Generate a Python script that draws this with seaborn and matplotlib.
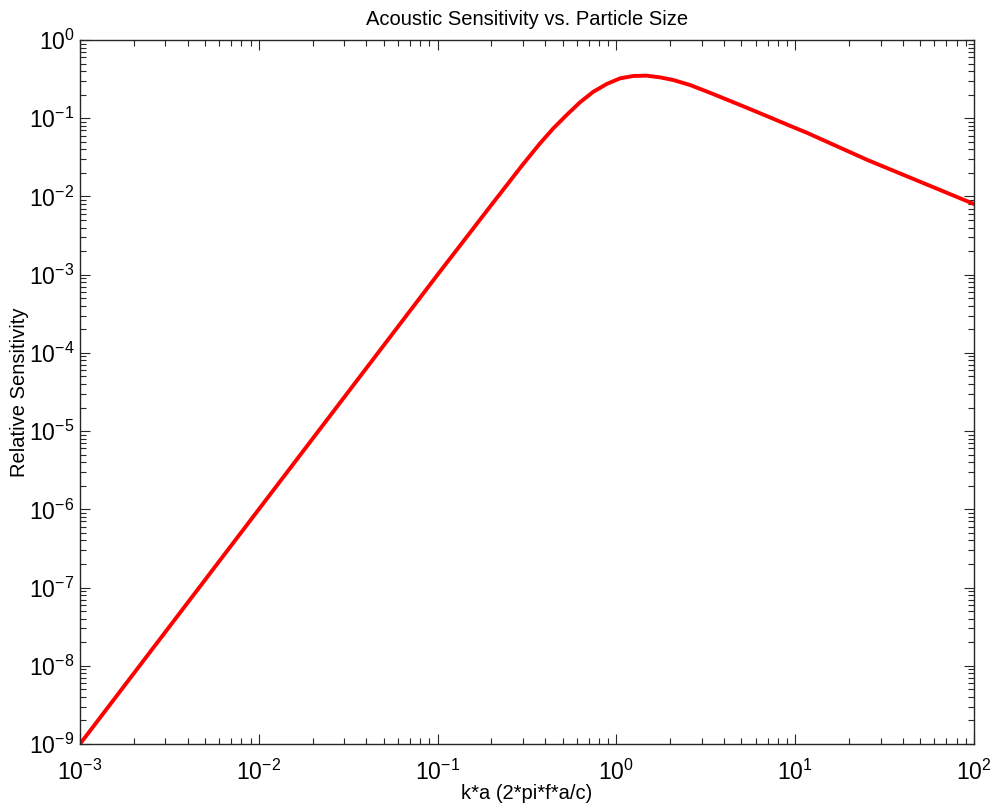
import numpy as np
import pandas as pd
import matplotlib
matplotlib.use("Agg")
import matplotlib.pyplot as plt
import seaborn as sns
from matplotlib.ticker import LogLocator, FixedLocator, FixedFormatter, NullFormatter

# Values
ka = [0.001, 0.01, 0.1, 0.2, 0.3, 0.374, 0.444, 0.527, 0.626, 0.743, 0.883, 1.047,
      1.243, 1.476, 1.753, 2.08, 2.58, 3.33, 4.31, 5.58, 7.22, 9.35, 11.6, 25.4, 100.0]
sensitivity = [1e-9, 1e-6, 1e-3, 0.0078, 0.0257, 0.0477, 0.0743, 0.110, 0.160, 0.218,
               0.274, 0.323, 0.347, 0.350, 0.333, 0.308, 0.266, 0.212, 0.167, 0.131,
               0.1026, 0.080, 0.0653, 0.0292, 0.0080]

xticks = [1e-3, 1e-2, 1e-1, 1e0, 1e1, 1e2]
xticklabels = [r"$10^{-3}$", r"$10^{-2}$", r"$10^{-1}$", r"$10^{0}$", r"$10^{1}$", r"$10^{2}$"]
yticks = [1e-9, 1e-8, 1e-7, 1e-6, 1e-5, 1e-4, 1e-3, 1e-2, 1e-1, 1e0]
yticklabels = [r"$10^{-9}$", r"$10^{-8}$", r"$10^{-7}$", r"$10^{-6}$", r"$10^{-5}$",
               r"$10^{-4}$", r"$10^{-3}$", r"$10^{-2}$", r"$10^{-1}$", r"$10^{0}$"]

title = "Acoustic Sensitivity vs. Particle Size"
xlabel = "k*a (2*pi*f*a/c)"
ylabel = "Relative Sensitivity"

sns.set_theme(style="ticks")
plt.rcParams["font.family"] = ["Liberation Sans", "DejaVu Sans"]
plt.rcParams["mathtext.fontset"] = "custom"
plt.rcParams["mathtext.rm"] = "Liberation Sans"
plt.rcParams["mathtext.it"] = "Liberation Sans"
plt.rcParams["mathtext.default"] = "regular"

df = pd.DataFrame({"ka": ka, "s": sensitivity})

fig = plt.figure(figsize=(9.92, 8.06), dpi=100)
ax = fig.add_axes([80/992, 1-744/806, (974-80)/992, (744-40)/806])

sns.lineplot(data=df, x="ka", y="s", ax=ax, color="#ff0000", linewidth=2.8,
             sort=False, estimator=None)

ax.set_xscale("log")
ax.set_yscale("log")
ax.set_xlim(1e-3, 1e2)
ax.set_ylim(1e-9, 1e0)

ax.xaxis.set_major_locator(FixedLocator(xticks))
ax.xaxis.set_major_formatter(FixedFormatter(xticklabels))
ax.yaxis.set_major_locator(FixedLocator(yticks))
ax.yaxis.set_major_formatter(FixedFormatter(yticklabels))
ax.xaxis.set_minor_locator(LogLocator(base=10, subs=np.arange(2, 10), numticks=20))
ax.yaxis.set_minor_locator(LogLocator(base=10, subs=np.arange(2, 10), numticks=20))
ax.xaxis.set_minor_formatter(NullFormatter())
ax.yaxis.set_minor_formatter(NullFormatter())

ax.tick_params(axis="both", which="major", direction="in", length=7, width=0.8,
               top=True, right=True, labelsize=16.5, colors="#262626", labelcolor="black")
ax.tick_params(axis="both", which="minor", direction="in", length=4, width=0.8,
               top=True, right=True, colors="#262626")
ax.tick_params(axis="x", which="major", pad=11)
ax.tick_params(axis="y", which="major", pad=4)

for sp in ax.spines.values():
    sp.set_visible(True)
    sp.set_linewidth(1.0)
    sp.set_color("#262626")

ax.set_title(title, fontsize=14.5, pad=11, color="black")
ax.set_xlabel(xlabel, fontsize=14.5, labelpad=0, color="black")
ax.set_ylabel(ylabel, fontsize=14.5, color="black")
ax.yaxis.set_label_coords(-0.057, 0.5)
ax.grid(False)

fig.savefig("out.png", dpi=100, facecolor="white")
